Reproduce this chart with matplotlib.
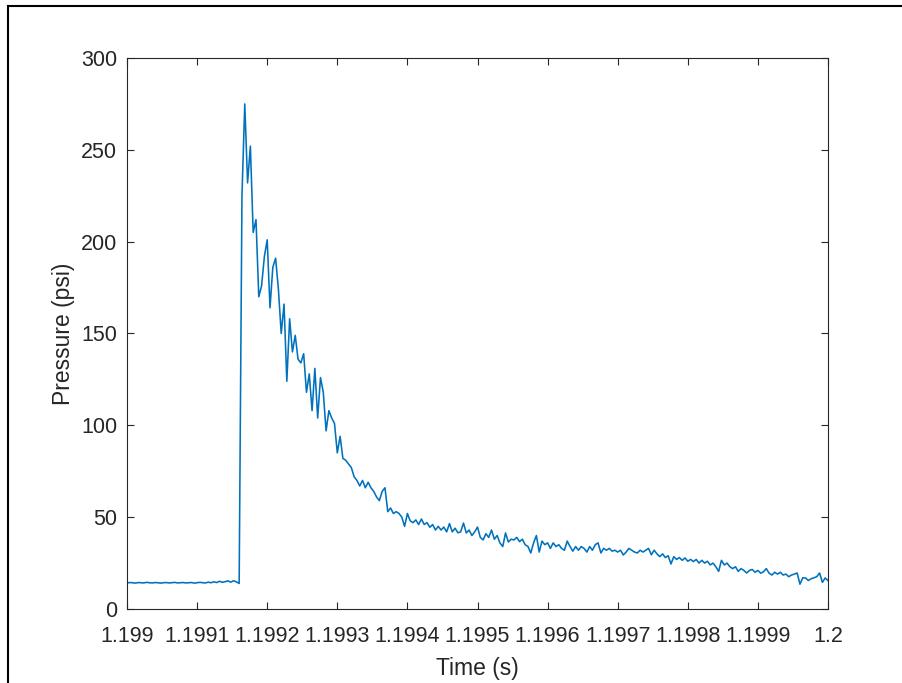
import numpy as np
import matplotlib.pyplot as plt
from matplotlib.lines import Line2D

plt.rcParams['font.family'] = ['Liberation Sans', 'DejaVu Sans']

# sampled pressure trace, one sample every 4 us starting at 1.199 s
t_start = 1.199
dt = 4e-6

baseline = [14.2, 14.4, 14.3, 14.1, 14.4, 14.3, 14.2, 14.5, 14.3, 14.2,
            14.4, 14.3, 14.1, 14.3, 14.4, 14.2, 14.3, 14.5, 14.2, 14.3,
            14.4, 14.2, 14.3, 14.4, 14.1, 14.3, 14.5, 14.3, 14.2, 14.6,
            14.3, 14.8, 14.4, 15.1, 14.5, 14.9, 15.3, 14.6, 15.4, 14.8,
            13.9]
peak = [225, 275, 232, 252, 205, 212, 170, 176, 192, 201,
        164, 186, 191, 174, 150, 166, 124, 158, 140, 149,
        136, 134, 139, 118, 128, 108, 131, 104, 126, 118,
        97, 108, 104, 101, 85, 94, 82, 81, 79, 77,
        72, 70, 67, 70, 66, 69, 66, 64, 61, 59,
        64, 66, 53, 55, 52, 53, 52, 50, 45, 52]
tail = [48, 47, 48.5, 46, 49, 46, 47, 44.5, 46, 43,
        45, 43, 44.6, 42, 46.5, 42, 44, 41.5, 42, 46.8,
        41.4, 43, 40, 42, 44.6, 39, 37.6, 41, 39, 43,
        38, 40, 36, 34, 41.4, 36.5, 38, 37.6, 39, 36.7,
        38, 35, 34, 30.5, 36, 40, 31, 37, 35, 36,
        33, 36, 34, 35, 33, 32, 37, 34, 31.5, 34,
        32, 34, 33, 31, 34, 32, 35, 36, 30.5, 33,
        32, 33, 31.5, 32, 31, 32, 29.4, 31, 33, 32,
        31, 30.5, 32, 31, 32, 33, 29.5, 32, 30, 28.5,
        30, 28, 29, 24.5, 28.5, 27, 28, 26.5, 27.8, 26,
        27, 25.8, 27, 25, 26.5, 25, 26, 24, 25, 23,
        20.5, 26.5, 24, 25, 23, 22, 23, 20.5, 22, 21,
        19.6, 21, 21.5, 20, 21, 19.5, 20.3, 22, 19.5, 18.5,
        20, 19, 20, 18.5, 19, 17.6, 18.5, 19, 19.6, 13.5,
        17, 16.9, 15.5, 16.5, 17, 17.6, 19.6, 14.5, 16.9, 15.5]

pressure = np.array(baseline + peak + tail)
time = t_start + dt * np.arange(len(pressure))

xticks = [1.199, 1.1991, 1.1992, 1.1993, 1.1994, 1.1995, 1.1996, 1.1997, 1.1998, 1.1999, 1.2]
xtick_labels = ['1.199', '1.1991', '1.1992', '1.1993', '1.1994', '1.1995',
                '1.1996', '1.1997', '1.1998', '1.1999', '1.2']
yticks = [0, 50, 100, 150, 200, 250, 300]

gray = '#262626'

fig = plt.figure(figsize=(9.02, 6.83), dpi=100)
ax = fig.add_axes([127 / 902, 74 / 683, 701 / 902, 551 / 683])

ax.plot(time, pressure, color='#0072BD', lw=1.15)

ax.set_xlim(1.199, 1.2)
ax.set_ylim(0, 300)
ax.set_xticks(xticks)
ax.set_xticklabels(xtick_labels)
ax.set_yticks(yticks)

for s in ax.spines.values():
    s.set_color(gray)
    s.set_linewidth(0.8)
ax.tick_params(direction='in', length=5, width=0.8, colors=gray,
               top=True, right=True, labelsize=15.5)
ax.tick_params(axis='x', pad=12.5)
ax.tick_params(axis='y', pad=7)

ax.set_xlabel('Time (s)', fontsize=16.5, color=gray, labelpad=7)
ax.set_ylabel('Pressure (psi)', fontsize=16.5, color=gray, labelpad=4.5)

# frame around the figure (left and top edges visible)
fig.add_artist(Line2D([0.009, 0.009], [0, 0.991], transform=fig.transFigure,
                      color='black', lw=1.5))
fig.add_artist(Line2D([0.009, 1.0], [0.991, 0.991], transform=fig.transFigure,
                      color='black', lw=1.5))

fig.savefig('out.png', dpi=100, facecolor='white')
